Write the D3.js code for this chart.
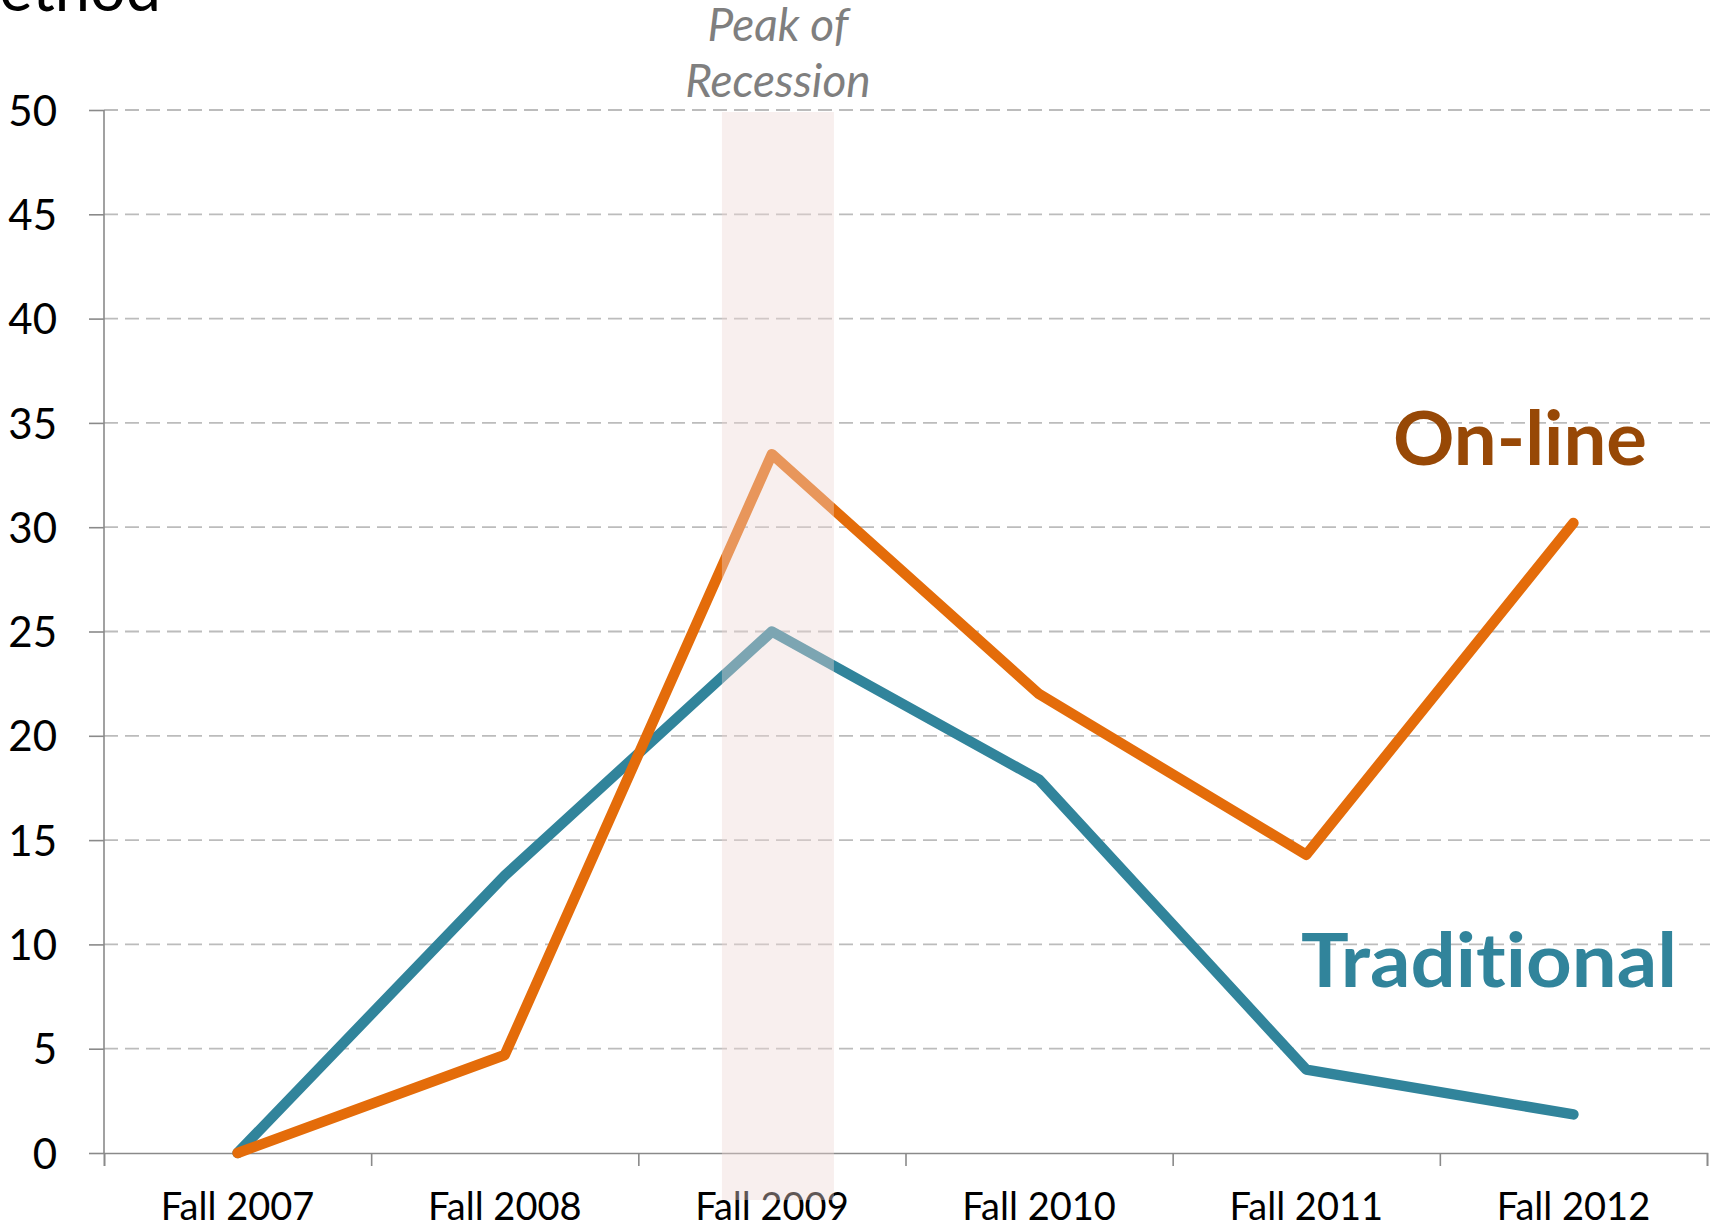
<!DOCTYPE html>
<html>
<head>
<meta charset="utf-8">
<script src="https://cdn.jsdelivr.net/npm/d3@7"></script>
<style>
  body { margin: 0; background: #fff; overflow: hidden; }
  svg { display: block; font-family: Lato, "Open Sans", sans-serif; font-variant-ligatures: none; }
</style>
</head>
<body>
<div id="chart"></div>
<script>
const MARGIN = { LEFT: 104, RIGHT: 3, TOP: 110, BOTTOM: 71 }
const WIDTH = 1710 - MARGIN.LEFT - MARGIN.RIGHT
const HEIGHT = 1224 - MARGIN.TOP - MARGIN.BOTTOM

const terms = ["Fall 2007", "Fall 2008", "Fall 2009", "Fall 2010", "Fall 2011", "Fall 2012"]
const traditional = [0, 13.3, 25, 17.9, 4.0, 1.85]
const online = [0, 4.7, 33.5, 22, 14.3, 30.2]
const yTicks = [0, 5, 10, 15, 20, 25, 30, 35, 40, 45, 50]
const recessionTerm = "Fall 2009"

const svg = d3.select("#chart").append("svg")
  .attr("width", 1710)
  .attr("height", 1224)

// title, cut off at the top-left edge
svg.append("text")
  .attr("x", 161)
  .attr("y", 11)
  .attr("text-anchor", "end")
  .attr("font-size", "63px")
  .attr("fill", "#000")
  .text("Method")

const g = svg.append("g")
  .attr("transform", `translate(${MARGIN.LEFT}, ${MARGIN.TOP})`)

const x = d3.scaleBand()
  .domain(terms)
  .range([0, WIDTH])

const y = d3.scaleLinear()
  .domain([0, 50])
  .range([HEIGHT, 0])

const cx = d => x(d) + x.bandwidth() / 2

// dashed gridlines
g.append("g")
  .selectAll("line")
  .data(yTicks.filter(d => d > 0))
  .enter().append("line")
  .attr("x1", 0)
  .attr("x2", WIDTH + 3)
  .attr("y1", d => y(d))
  .attr("y2", d => y(d))
  .attr("stroke", "#bcbcbc")
  .attr("stroke-width", 1.8)
  .attr("stroke-dasharray", "14,7")

// Y axis
const yAxisCall = d3.axisLeft(y).tickValues(yTicks).tickSize(15).tickPadding(32)
const yAxis = g.append("g").attr("class", "y axis").call(yAxisCall)
yAxis.select(".domain").remove()
yAxis.append("line").attr("y1", y(50)).attr("y2", y(0))
  .attr("stroke", "#8a8a8a").attr("stroke-width", 1.6)
yAxis.selectAll(".tick line").attr("stroke", "#8a8a8a").attr("stroke-width", 1.6)
yAxis.selectAll(".tick text")
  .attr("font-size", "42px")
  .attr("font-family", "Lato, sans-serif")
  .attr("fill", "#000")
  .attr("dy", "0.36em")

// X axis: boundary ticks between categories, labels at centers
const xEdge = d3.scaleLinear().domain([0, terms.length]).range([0, WIDTH])
const xEdgeAxis = g.append("g")
  .attr("transform", `translate(0, ${HEIGHT})`)
  .call(d3.axisBottom(xEdge).tickValues(d3.range(terms.length + 1)).tickSize(13).tickFormat(""))
xEdgeAxis.select(".domain").attr("stroke", "#8a8a8a").attr("stroke-width", 1.6)
xEdgeAxis.selectAll(".tick line").attr("stroke", "#8a8a8a").attr("stroke-width", 1.6)

const xAxis = g.append("g")
  .attr("class", "x axis")
  .attr("transform", `translate(0, ${HEIGHT})`)
  .call(d3.axisBottom(x).tickSize(0).tickPadding(0))
xAxis.select(".domain").remove()
xAxis.selectAll(".tick text")
  .attr("font-size", "38px")
  .attr("font-family", "Lato, sans-serif")
  .attr("fill", "#000")
  .attr("dy", null)
  .attr("y", 67)

// lines
const line = d3.line()
  .x((d, i) => cx(terms[i]))
  .y(d => y(d))

const series = [
  { name: "Traditional", values: traditional, color: "#31849b" },
  { name: "On-line", values: online, color: "#e46c0a" }
]

g.selectAll(".series")
  .data(series)
  .enter().append("path")
  .attr("class", "series")
  .attr("d", d => line(d.values))
  .attr("fill", "none")
  .attr("stroke", d => d.color)
  .attr("stroke-width", 10.5)
  .attr("stroke-linejoin", "round")
  .attr("stroke-linecap", "round")

// recession band, drawn on top semi-transparent
const bandW = 112
g.append("rect")
  .attr("x", cx(recessionTerm) + 6 - bandW / 2)
  .attr("y", y(50) + 2)
  .attr("width", bandW)
  .attr("height", y(0) - y(50) + 45)
  .attr("fill", "rgb(238,216,213)")
  .attr("opacity", 0.4)

const note = g.append("text")
  .attr("text-anchor", "middle")
  .attr("font-style", "italic")
  .attr("font-size", "46px")
  .attr("fill", "#7f7f7f")
note.append("tspan").attr("x", cx(recessionTerm) + 6).attr("y", -69).text("Peak of")
note.append("tspan").attr("x", cx(recessionTerm) + 6).attr("y", -13).text("Recession")

// series labels
g.append("text")
  .attr("x", 1289)
  .attr("y", 355)
  .attr("font-size", "74px")
  .attr("font-weight", "bold")
  .attr("fill", "#974806")
  .attr("textLength", 254)
  .attr("lengthAdjust", "spacingAndGlyphs")
  .text("On-line")

g.append("text")
  .attr("x", 1197)
  .attr("y", 877)
  .attr("font-size", "75px")
  .attr("font-weight", "bold")
  .attr("fill", "#31849b")
  .attr("textLength", 376)
  .attr("lengthAdjust", "spacingAndGlyphs")
  .text("Traditional")
</script>
</body>
</html>
